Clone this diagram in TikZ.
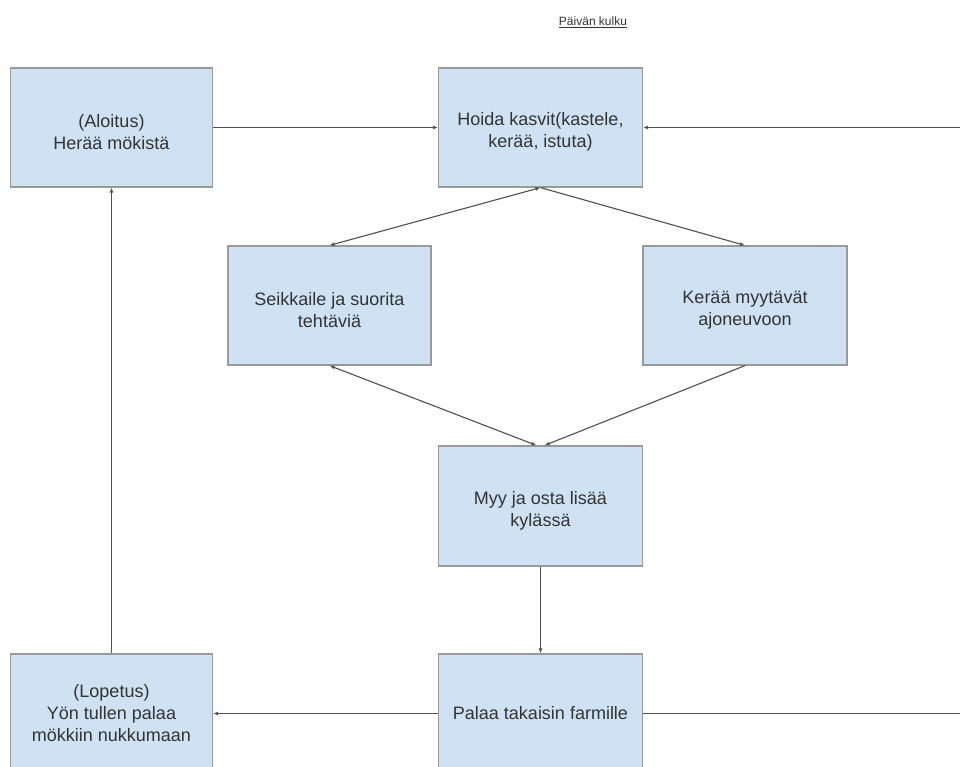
\documentclass[tikz,border=0pt]{standalone}
\usepackage{fontspec}
\setmainfont{Liberation Sans}
\usetikzlibrary{calc,arrows.meta}
\definecolor{boxfill}{HTML}{CFE2F3}
\definecolor{boxline}{HTML}{999999}
\definecolor{conn}{HTML}{505050}
\definecolor{txt}{HTML}{333333}
\newcommand\tstrut{\rule{0pt}{22pt}}
\tikzset{
  stepbox/.style={draw=boxline, line width=1.2pt, fill=boxfill, inner sep=0pt,
    minimum width=204pt, minimum height=119pt, align=center, text=txt,
    font=\fontsize{18}{22}\selectfont},
  conline/.style={draw=conn, line width=1.1pt},
  arr/.style={conline, -{Latex[length=5pt,width=4pt]}},
  biarr/.style={conline, {Latex[length=5pt,width=4pt]}-{Latex[length=5pt,width=4pt]}}
}
\begin{document}
\begin{tikzpicture}[x=1pt,y=-1pt]
\useasboundingbox (0,0) rectangle (960,767);
\clip (0,0) rectangle (960,767);
\fill[white] (0,0) rectangle (960,767);
\node[text=txt, font=\fontsize{12}{14}\selectfont] (title) at (593,22) {\underline{Päivän kulku}};
\node[stepbox, minimum width=202pt] (A) at (111.5,127.5) {\tstrut(Aloitus)\\Herää mökistä};
\node[stepbox] (H) at (540.5,127.5) {\tstrut Hoida kasvit(kastele,\\kerää, istuta)};
\node[stepbox, minimum width=203pt] (S) at (329.5,305.5) {\tstrut Seikkaile ja suorita\\tehtäviä};
\node[stepbox] (K) at (745,305.5) {\tstrut Kerää myytävät\\ajoneuvoon};
\node[stepbox, minimum height=120pt] (M) at (540.5,506) {\tstrut Myy ja osta lisää\\kylässä};
\node[stepbox] (P) at (540.5,713.5) {Palaa takaisin farmille};
\node[stepbox, minimum width=202pt] (L) at (111.5,713.5) {(Lopetus)\\Yön tullen palaa\\mökkiin nukkumaan};
\coordinate (rb) at (975,713.5);
\coordinate (rt) at (975,127.5);
\draw[arr] (A) -- (H);
\draw[arr] (rt) -- (H.east);
\draw[conline] (P.east) -- (rb) -- (rt);
\draw[biarr] (H.south) -- (S.north);
\draw[arr] (H.south) -- (K.north);
\draw[biarr] (S.south) -- ($(M.north)+(-4,0)$);
\draw[arr] (K.south) -- ($(M.north)+(4,0)$);
\draw[arr] (M) -- (P);
\draw[arr] (P) -- (L);
\draw[arr] (L) -- (A);
\end{tikzpicture}
\end{document}
